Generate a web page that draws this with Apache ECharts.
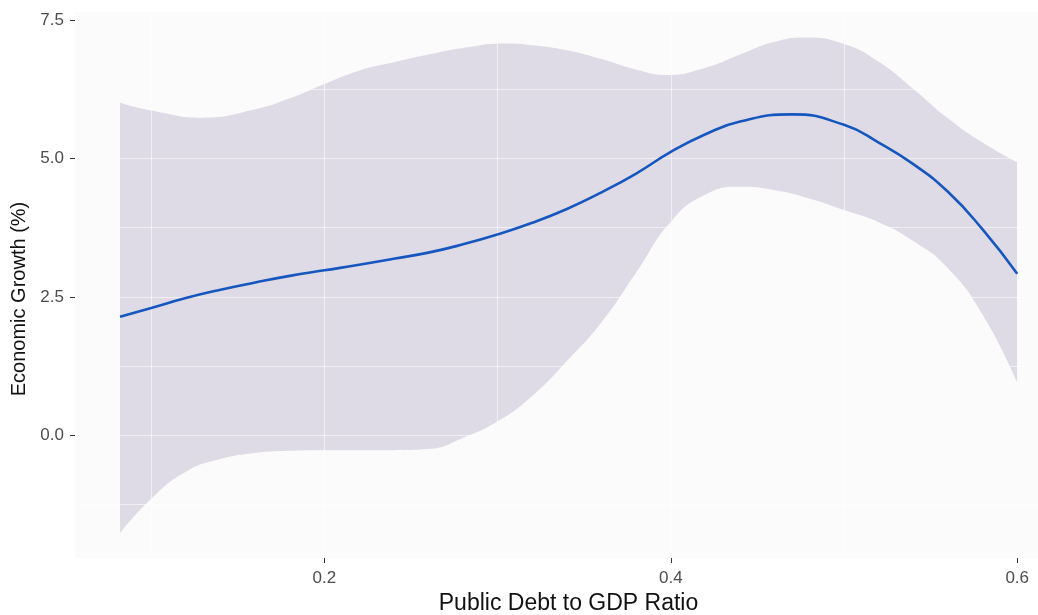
<!DOCTYPE html>
<html>
<head>
<meta charset="utf-8">
<script src="https://cdn.jsdelivr.net/npm/echarts@6/dist/echarts.min.js"></script>
<style>
  html, body { margin: 0; padding: 0; background: #ffffff; }
  #chart { width: 1038px; height: 615px; }
</style>
</head>
<body>
<div id="chart"></div>
<script>
// Smoothed fit of growth against debt ratio
const fitX = [0.082, 0.10, 0.12, 0.14, 0.16, 0.18, 0.20, 0.22, 0.24, 0.26, 0.28, 0.30, 0.32, 0.34,
              0.36, 0.38, 0.40, 0.42, 0.44, 0.47, 0.50, 0.52, 0.54, 0.56, 0.58, 0.60];
const fitY = [2.14, 2.30, 2.48, 2.63, 2.76, 2.88, 2.98, 3.08, 3.19, 3.30, 3.45, 3.63, 3.84, 4.09,
              4.39, 4.73, 5.12, 5.44, 5.67, 5.80, 5.61, 5.29, 4.90, 4.40, 3.72, 2.92];

// Upper edge of the confidence band
const upperX = [0.082, 0.10, 0.13, 0.16, 0.18, 0.20, 0.22, 0.24, 0.26, 0.28, 0.305, 0.32, 0.34, 0.36,
                0.38, 0.398, 0.42, 0.44, 0.46, 0.478, 0.50, 0.52, 0.54, 0.56, 0.58, 0.60];
const upperY = [6.01, 5.87, 5.74, 5.89, 6.09, 6.35, 6.59, 6.74, 6.88, 7.00, 7.08, 7.05, 6.96, 6.80,
                6.61, 6.51, 6.64, 6.88, 7.11, 7.19, 7.07, 6.75, 6.26, 5.73, 5.29, 4.93];

// Lower edge of the confidence band
const lowerX = [0.082, 0.10, 0.12, 0.14, 0.16, 0.18, 0.20, 0.22, 0.24, 0.26, 0.28, 0.30, 0.32, 0.34,
                0.36, 0.38, 0.40, 0.42, 0.44, 0.46, 0.48, 0.50, 0.52, 0.54, 0.56, 0.58, 0.60];
const lowerY = [-1.77, -1.15, -0.66, -0.43, -0.32, -0.28, -0.27, -0.27, -0.27, -0.25, -0.05, 0.25, 0.71, 1.34,
                2.04, 2.94, 3.86, 4.35, 4.49, 4.43, 4.28, 4.07, 3.85, 3.51, 3.02, 2.18, 0.95];

// Axis ticks and background grid positions
const xTicks = [0.2, 0.4, 0.6];
const yTicks = [0, 2.5, 5, 7.5];
const xGrid = [0.1, 0.2, 0.3, 0.4, 0.5, 0.6];
const yGrid = [-1.25, 0, 1.25, 2.5, 3.75, 5, 6.25, 7.5];

const X_MIN = 0.056, X_MAX = 0.612;
const Y_MIN = -2.22, Y_MAX = 7.65;

const FONT = "'Liberation Sans', Arial, sans-serif";
const PANEL_BG = '#fbfbfc';
const BAND = '#dfdbe6';

const pairs = (xs, ys) => xs.map((x, i) => [x, ys[i]]);

const chart = echarts.init(document.getElementById('chart'), null, { renderer: 'canvas' });

// Extra invisible axes that only draw the light grid lines over the band
const gridLineAxis = (vals, min, max) => ({
  type: 'value',
  min: min, max: max,
  z: 3,
  axisLine: { show: false, onZero: false },
  axisLabel: { show: false },
  axisTick: { show: false, customValues: vals },
  splitLine: { show: true, lineStyle: { color: 'rgba(255,255,255,0.55)', width: 1 } }
});

chart.setOption({
  animation: false,
  backgroundColor: '#ffffff',
  grid: {
    left: 75, right: 0, top: 12, bottom: 57,
    outerBoundsMode: 'none',
    containLabel: false,
    show: true, backgroundColor: PANEL_BG, borderWidth: 0
  },
  xAxis: [
    {
      type: 'value',
      min: X_MIN, max: X_MAX,
      name: 'Public Debt to GDP Ratio',
      nameLocation: 'middle',
      nameGap: 34,
      nameTextStyle: { fontFamily: FONT, fontSize: 23, color: '#111111', padding: [0, 0, 0, 24] },
      axisLine: { show: false, onZero: false },
      axisTick: { show: true, length: 5, customValues: xTicks, lineStyle: { color: '#333333', width: 1 } },
      axisLabel: {
        customValues: xTicks, margin: 12,
        fontFamily: FONT, fontSize: 17, color: '#4d4d4d',
        formatter: v => v.toFixed(1)
      },
      splitLine: { show: false }
    },
    Object.assign(gridLineAxis(xGrid, X_MIN, X_MAX), { position: 'top' })
  ],
  yAxis: [
    {
      type: 'value',
      min: Y_MIN, max: Y_MAX,
      name: 'Economic Growth (%)',
      nameLocation: 'middle',
      nameGap: 45,
      nameTextStyle: { fontFamily: FONT, fontSize: 20, color: '#111111', padding: [0, 28, 0, 0] },
      axisLine: { show: false, onZero: false },
      axisTick: { show: true, length: 5, customValues: yTicks, lineStyle: { color: '#333333', width: 1 } },
      axisLabel: {
        customValues: yTicks, margin: 11,
        fontFamily: FONT, fontSize: 17, color: '#4d4d4d',
        formatter: v => v.toFixed(1)
      },
      splitLine: { show: false }
    },
    Object.assign(gridLineAxis(yGrid, Y_MIN, Y_MAX), { position: 'right' })
  ],
  series: [
    {
      // band: fill from the upper bound down to the panel floor
      name: 'upper',
      type: 'line',
      xAxisIndex: 0, yAxisIndex: 0,
      data: pairs(upperX, upperY),
      smooth: true,
      showSymbol: false,
      silent: true,
      lineStyle: { width: 0, opacity: 0 },
      areaStyle: { color: BAND, opacity: 1, origin: 'start' },
      z: 2
    },
    {
      // then clear everything under the lower bound back to the panel colour
      name: 'lower',
      type: 'line',
      xAxisIndex: 0, yAxisIndex: 0,
      data: pairs(lowerX, lowerY),
      smooth: true,
      showSymbol: false,
      silent: true,
      lineStyle: { width: 0, opacity: 0 },
      areaStyle: { color: PANEL_BG, opacity: 1, origin: 'start' },
      z: 2
    },
    {
      name: 'fit',
      type: 'line',
      xAxisIndex: 0, yAxisIndex: 0,
      data: pairs(fitX, fitY),
      smooth: true,
      showSymbol: false,
      silent: true,
      lineStyle: { color: '#1657bf', width: 2.6 },
      z: 5
    }
  ]
});
</script>
</body>
</html>
